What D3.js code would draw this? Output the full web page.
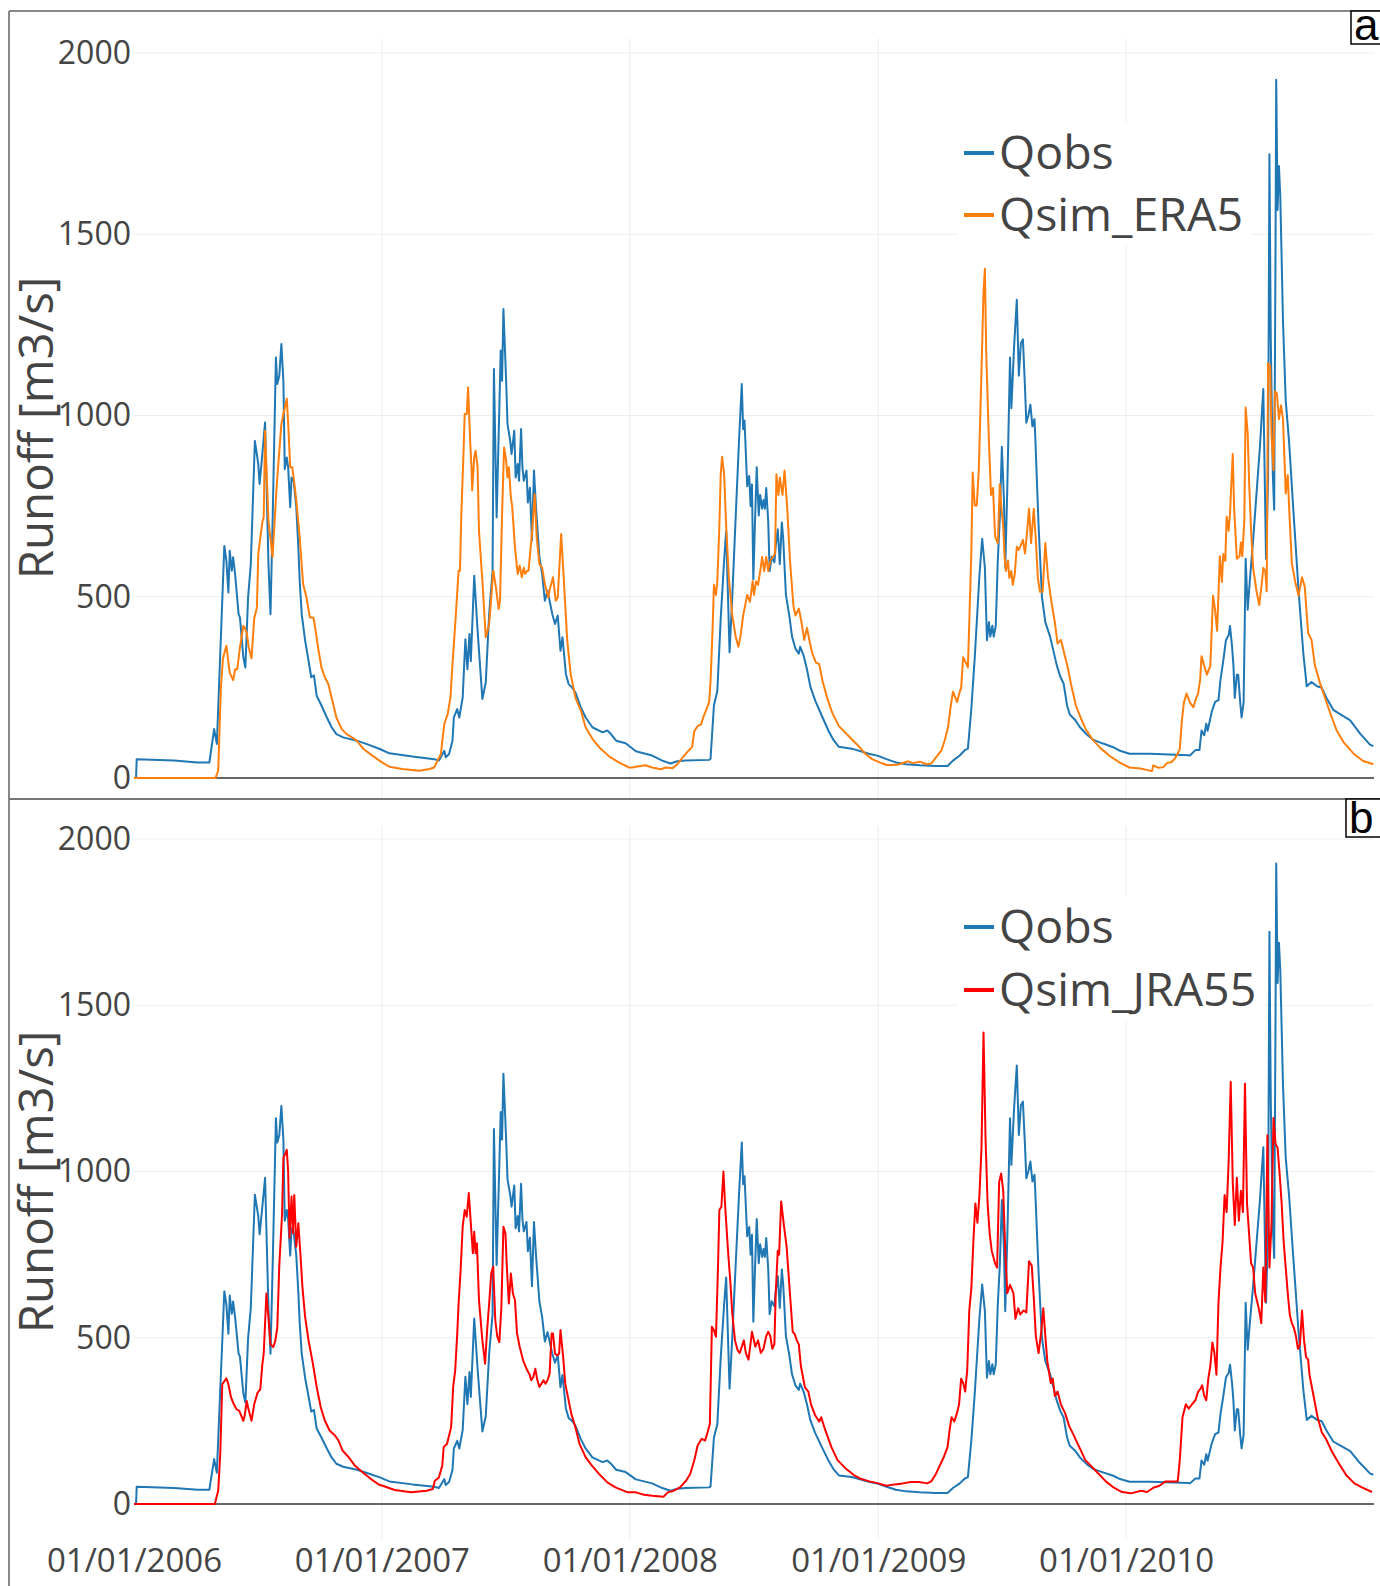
<!DOCTYPE html>
<html>
<head>
<meta charset="utf-8">
<script src="https://cdn.jsdelivr.net/npm/d3@7"></script>
<style>
  body { margin: 0; background: #fff; }
  svg { display: block; }
</style>
</head>
<body>
<svg width="1380" height="1586"></svg>
<script>
// daily runoff: [year-dayOfYear, m3/s]
var qobs = [
  ["2006-004",0],["2006-005",52],["2006-060",48],["2006-095",43],["2006-112",43],["2006-119",135],["2006-123",94],
  ["2006-134",640],["2006-137",600],["2006-140",512],["2006-142",627],["2006-145",572],["2006-147",609],["2006-150",560],
  ["2006-155",452],["2006-157",443],["2006-162",333],["2006-165",305],["2006-169",498],["2006-173",590],["2006-179",930],
  ["2006-184",866],["2006-186",811],["2006-190",894],["2006-194",981],["2006-199",590],["2006-202",452],["2006-205",700],
  ["2006-210",1160],["2006-212",1087],["2006-215",1110],["2006-218",1197],["2006-221",1096],["2006-223",852],["2006-226",884],
  ["2006-228",857],["2006-231",747],["2006-233",829],["2006-236",820],["2006-240",747],["2006-243",636],["2006-245",544],
  ["2006-248",452],["2006-253",379],["2006-258",324],["2006-262",278],["2006-266",283],["2006-270",227],["2006-277",200],
  ["2006-285",167],["2006-292",140],["2006-299",121],["2006-309",112],["2006-329",103],["2006-343",94],["2006-363",80],
  ["2007-012",68],["2007-046",59],["2007-078",52],["2007-085",48],["2007-093",75],["2007-095",57],["2007-100",66],
  ["2007-105",103],["2007-107",167],["2007-112",190],["2007-115",167],["2007-120",222],["2007-124",383],["2007-127",300],
  ["2007-130",397],["2007-132",322],["2007-137",558],["2007-142",406],["2007-149",218],["2007-154",264],["2007-159",452],
  ["2007-164",570],["2007-166",1128],["2007-170",719],["2007-174",1022],["2007-176",1179],["2007-178",1096],["2007-180",1294],
  ["2007-184",1096],["2007-186",977],["2007-190",930],["2007-192",894],["2007-196",958],["2007-198",829],["2007-201",866],
  ["2007-203",820],["2007-206",963],["2007-208",857],["2007-210",820],["2007-214",848],["2007-216",760],["2007-219",801],
  ["2007-222",655],["2007-225",848],["2007-228",747],["2007-233",609],["2007-237",563],["2007-241",489],["2007-245",517],
  ["2007-248",489],["2007-252",452],["2007-256",425],["2007-260",448],["2007-264",351],["2007-267",388],["2007-272",287],
  ["2007-276",259],["2007-281",250],["2007-286",236],["2007-294",195],["2007-301",167],["2007-311",140],["2007-326",126],
  ["2007-333",131],["2007-338",122],["2007-346",103],["2007-360",96],
  ["2008-010",74],["2008-034",62],["2008-049",48],["2008-061",40],["2008-071",46],["2008-083",48],["2008-118",50],
  ["2008-120",53],["2008-125",200],["2008-130",240],["2008-135",440],["2008-140",600],["2008-143",681],["2008-148",347],
  ["2008-152",500],["2008-157",719],["2008-162",933],["2008-166",1087],["2008-168",962],["2008-170",986],["2008-174",805],
  ["2008-177",833],["2008-179",750],["2008-181",810],["2008-183",548],["2008-186",738],["2008-188",857],["2008-191",724],
  ["2008-193",781],["2008-196",743],["2008-198",767],["2008-200",743],["2008-202",800],["2008-205",705],["2008-207",571],
  ["2008-210",610],["2008-214",595],["2008-216",640],["2008-219",686],["2008-222",590],["2008-225",705],["2008-227",660],
  ["2008-231",505],["2008-236",448],["2008-240",390],["2008-245",357],["2008-250",343],["2008-252",362],["2008-257",338],
  ["2008-262",300],["2008-267",252],["2008-274",214],["2008-284",171],["2008-294",129],["2008-301",105],["2008-309",86],
  ["2008-328",81],["2008-353",67],
  ["2009-001",61],["2009-013",52],["2009-027",43],["2009-042",38],["2009-062",35],["2009-086",33],["2009-103",33],
  ["2009-111",48],["2009-121",62],["2009-128",76],["2009-133",81],["2009-138",190],["2009-143",330],["2009-150",560],
  ["2009-154",660],["2009-158",580],["2009-161",380],["2009-164",430],["2009-166",390],["2009-169",420],["2009-171",390],
  ["2009-174",420],["2009-177",600],["2009-180",720],["2009-183",914],["2009-186",770],["2009-188",580],["2009-191",800],
  ["2009-195",1160],["2009-197",1020],["2009-201",1190],["2009-205",1319],["2009-208",1110],["2009-211",1200],["2009-214",1210],
  ["2009-217",1080],["2009-219",980],["2009-222",1000],["2009-225",1030],["2009-228",970],["2009-231",990],["2009-232",950],
  ["2009-237",700],["2009-242",500],["2009-247",430],["2009-254",390],["2009-259",350],["2009-264",310],["2009-269",280],
  ["2009-274",260],["2009-279",200],["2009-283",175],["2009-291",160],["2009-298",140],["2009-308",120],["2009-318",105],
  ["2009-332",95],["2009-347",85],["2009-357",75],
  ["2010-006",67],["2010-036",67],["2010-093",63],["2010-095",62],["2010-103",77],["2010-109",77],["2010-112",131],
  ["2010-116",118],["2010-119",150],["2010-121",130],["2010-124",156],["2010-127",182],["2010-132",210],["2010-137",215],
  ["2010-140",272],["2010-144",323],["2010-148",381],["2010-152",394],["2010-154",419],["2010-157",362],["2010-159",310],
  ["2010-161",221],["2010-164",285],["2010-166",285],["2010-169",208],["2010-171",167],["2010-174",208],["2010-177",605],
  ["2010-180",464],["2010-183",541],["2010-188",656],["2010-193",785],["2010-198",913],["2010-203",1073],["2010-207",605],
  ["2010-210",823],["2010-212",1721],["2010-214",1208],["2010-217",836],["2010-219",740],["2010-221",1464],["2010-222",1926],
  ["2010-224",1567],["2010-226",1688],["2010-228",1605],["2010-232",1259],["2010-236",1041],["2010-241",926],["2010-247",746],
  ["2010-255",515],["2010-262",342],["2010-267",253],["2010-274",265],["2010-282",253],["2010-289",249],["2010-296",221],
  ["2010-306",188],["2010-316",176],["2010-331",159],["2010-345",124],["2010-360",92],["2010-365",88]
];

var qsimEra5 = [
  ["2006-001",0],["2006-121",0],["2006-125",20],["2006-129",250],["2006-132",330],["2006-137",365],["2006-142",290],
  ["2006-147",270],["2006-150",300],["2006-153",300],["2006-157",360],["2006-162",420],["2006-164",415],["2006-167",400],
  ["2006-170",360],["2006-174",330],["2006-178",440],["2006-182",470],["2006-184",618],["2006-190",706],["2006-192",720],
  ["2006-194",958],["2006-199",710],["2006-205",609],["2006-211",802],["2006-218",976],["2006-221",1004],["2006-226",1046],
  ["2006-228",980],["2006-231",857],["2006-234",857],["2006-236",830],["2006-240",765],["2006-245",664],["2006-250",535],
  ["2006-255",498],["2006-260",443],["2006-265",443],["2006-267",425],["2006-272",360],["2006-277",305],["2006-282",278],
  ["2006-287",260],["2006-292",222],["2006-299",167],["2006-307",135],["2006-314",121],["2006-322",112],["2006-329",103],
  ["2006-339",80],["2006-349",66],["2006-364",46],
  ["2007-012",31],["2007-031",25],["2007-056",20],["2007-071",25],["2007-078",29],["2007-083",48],["2007-088",66],
  ["2007-090",103],["2007-093",149],["2007-098",177],["2007-102",222],["2007-105",314],["2007-110",452],["2007-114",572],
  ["2007-116",572],["2007-118",728],["2007-121",885],["2007-123",1004],["2007-126",1004],["2007-128",1078],["2007-131",930],
  ["2007-133",857],["2007-134",793],["2007-137",885],["2007-139",903],["2007-142",857],["2007-144",682],["2007-149",544],
  ["2007-154",388],["2007-159",425],["2007-161",470],["2007-165",572],["2007-169",526],["2007-173",466],["2007-175",490],
  ["2007-178",728],["2007-181",912],["2007-184",876],["2007-186",829],["2007-188",857],["2007-191",774],["2007-193",747],
  ["2007-197",636],["2007-201",563],["2007-204",586],["2007-207",554],["2007-210",580],["2007-212",563],["2007-215",572],
  ["2007-217",572],["2007-222",674],["2007-226",783],["2007-229",664],["2007-233",590],["2007-237",580],["2007-241",535],
  ["2007-246",498],["2007-249",526],["2007-253",554],["2007-257",489],["2007-260",498],["2007-265",673],["2007-269",544],
  ["2007-274",379],["2007-279",287],["2007-286",222],["2007-294",186],["2007-301",140],["2007-311",108],["2007-321",85],
  ["2007-336",59],["2007-350",43],["2007-365",29],
  ["2008-005",29],["2008-010",31],["2008-024",35],["2008-034",29],["2008-047",24],["2008-054",29],["2008-064",27],
  ["2008-071",38],["2008-079",57],["2008-088",76],["2008-093",86],["2008-096",129],["2008-101",143],["2008-106",148],
  ["2008-110",171],["2008-114",190],["2008-118",210],["2008-120",267],["2008-123",410],["2008-125",533],["2008-128",505],
  ["2008-130",543],["2008-133",695],["2008-135",838],["2008-137",886],["2008-140",838],["2008-143",695],["2008-147",552],
  ["2008-152",448],["2008-157",390],["2008-161",362],["2008-164",390],["2008-168",448],["2008-172",486],["2008-174",505],
  ["2008-178",486],["2008-182",543],["2008-184",505],["2008-187",543],["2008-190",533],["2008-194",581],["2008-196",610],
  ["2008-199",571],["2008-202",610],["2008-205",571],["2008-208",600],["2008-212",610],["2008-215",619],["2008-217",838],
  ["2008-220",781],["2008-222",829],["2008-226",781],["2008-229",848],["2008-233",743],["2008-237",600],["2008-242",476],
  ["2008-245",448],["2008-250",467],["2008-254",429],["2008-258",381],["2008-262",414],["2008-266",376],["2008-270",343],
  ["2008-275",319],["2008-280",314],["2008-285",267],["2008-292",219],["2008-299",181],["2008-309",143],["2008-319",124],
  ["2008-329",105],["2008-339",86],["2008-348",67],["2008-358",52],
  ["2009-003",43],["2009-013",36],["2009-022",36],["2009-032",38],["2009-045",46],["2009-052",41],["2009-062",45],
  ["2009-072",38],["2009-079",40],["2009-086",57],["2009-094",76],["2009-099",105],["2009-104",143],["2009-107",190],
  ["2009-111",238],["2009-117",210],["2009-121",238],["2009-123",248],["2009-126",333],["2009-131",314],["2009-133",305],
  ["2009-135",429],["2009-138",619],["2009-140",843],["2009-143",752],["2009-146",752],["2009-149",848],["2009-153",1124],
  ["2009-156",1343],["2009-158",1405],["2009-160",1171],["2009-164",924],["2009-167",781],["2009-170",800],["2009-173",667],
  ["2009-177",648],["2009-180",810],["2009-182",752],["2009-185",695],["2009-187",610],["2009-189",571],["2009-192",600],
  ["2009-194",552],["2009-197",571],["2009-199",533],["2009-202",562],["2009-205",638],["2009-208",629],["2009-210",638],
  ["2009-214",657],["2009-217",619],["2009-220",676],["2009-223",743],["2009-226",648],["2009-230",743],["2009-233",657],
  ["2009-236",552],["2009-239",514],["2009-243",514],["2009-247",648],["2009-251",552],["2009-256",486],["2009-261",429],
  ["2009-265",371],["2009-270",381],["2009-275",343],["2009-280",305],["2009-285",257],["2009-292",200],["2009-300",162],
  ["2009-307",133],["2009-317",105],["2009-329",81],["2009-341",62],["2009-356",43],
  ["2010-006",29],["2010-022",26],["2010-039",19],["2010-041",35],["2010-049",28],["2010-056",30],["2010-061",41],
  ["2010-068",44],["2010-073",54],["2010-080",79],["2010-083",156],["2010-086",208],["2010-090",233],["2010-095",208],
  ["2010-100",195],["2010-104",220],["2010-107",233],["2010-110",272],["2010-112",336],["2010-116",310],["2010-120",285],
  ["2010-125",310],["2010-129",503],["2010-132",464],["2010-135",406],["2010-139",612],["2010-142",541],["2010-144",618],
  ["2010-147",599],["2010-149",721],["2010-152",682],["2010-154",733],["2010-158",894],["2010-160",746],["2010-164",605],
  ["2010-168",612],["2010-170",650],["2010-172",612],["2010-175",708],["2010-177",1022],["2010-180",951],["2010-182",823],
  ["2010-185",682],["2010-188",580],["2010-193",515],["2010-197",477],["2010-201",541],["2010-203",580],["2010-206",570],
  ["2010-208",515],["2010-210",1144],["2010-213",1137],["2010-215",951],["2010-218",849],["2010-220",1067],["2010-223",1060],
  ["2010-226",990],["2010-229",1028],["2010-232",990],["2010-234",887],["2010-236",785],["2010-239",836],["2010-241",746],
  ["2010-245",592],["2010-250",541],["2010-255",503],["2010-260",554],["2010-264",528],["2010-269",400],["2010-274",381],
  ["2010-279",310],["2010-287",259],["2010-294",220],["2010-301",182],["2010-311",131],["2010-321",99],["2010-336",67],
  ["2010-350",47],["2010-365",38]
];

var qsimJra55 = [
  ["2006-001",0],["2006-120",0],["2006-125",40],["2006-128",150],["2006-131",360],["2006-137",378],["2006-140",360],
  ["2006-144",320],["2006-148",300],["2006-152",285],["2006-156",280],["2006-159",265],["2006-162",250],["2006-164",266],
  ["2006-167",310],["2006-169",290],["2006-174",250],["2006-178",300],["2006-183",335],["2006-187",345],["2006-190",420],
  ["2006-192",452],["2006-196",633],["2006-199",560],["2006-202",480],["2006-206",472],["2006-209",490],["2006-212",530],
  ["2006-215",720],["2006-219",870],["2006-221",1040],["2006-226",1065],["2006-228",1000],["2006-230",800],["2006-233",925],
  ["2006-235",814],["2006-237",929],["2006-240",774],["2006-243",844],["2006-246",754],["2006-249",653],["2006-253",563],
  ["2006-258",492],["2006-264",427],["2006-270",352],["2006-276",291],["2006-282",251],["2006-289",221],["2006-297",206],
  ["2006-302",191],["2006-308",161],["2006-317",141],["2006-326",116],["2006-338",95],["2006-350",75],["2006-362",58],
  ["2007-002",55],["2007-020",42],["2007-044",35],["2007-067",40],["2007-076",45],["2007-079",70],["2007-085",80],
  ["2007-090",116],["2007-092",171],["2007-097",181],["2007-103",231],["2007-106",352],["2007-109",402],["2007-112",513],
  ["2007-114",603],["2007-117",704],["2007-120",834],["2007-123",884],["2007-126",864],["2007-129",935],["2007-132",844],
  ["2007-135",754],["2007-137",819],["2007-139",754],["2007-141",784],["2007-144",613],["2007-149",492],["2007-153",422],
  ["2007-156",523],["2007-159",603],["2007-162",693],["2007-165",714],["2007-168",553],["2007-171",503],["2007-174",487],
  ["2007-177",593],["2007-180",834],["2007-183",814],["2007-185",714],["2007-188",603],["2007-191",693],["2007-194",633],
  ["2007-197",613],["2007-200",513],["2007-204",472],["2007-209",432],["2007-212",417],["2007-215",402],["2007-218",392],
  ["2007-221",372],["2007-224",382],["2007-227",407],["2007-230",372],["2007-233",352],["2007-236",362],["2007-239",372],
  ["2007-242",362],["2007-245",372],["2007-248",392],["2007-251",513],["2007-253",513],["2007-256",452],["2007-259",447],
  ["2007-262",452],["2007-264",523],["2007-268",442],["2007-271",362],["2007-274",332],["2007-280",271],["2007-286",231],
  ["2007-292",181],["2007-301",141],["2007-310",116],["2007-321",90],["2007-333",65],["2007-345",50],["2007-363",35],
  ["2008-010",35],["2008-022",28],["2008-034",25],["2008-051",22],["2008-057",35],["2008-066",40],["2008-075",50],
  ["2008-084",70],["2008-090",90],["2008-096",131],["2008-101",176],["2008-107",196],["2008-112",191],["2008-115",211],
  ["2008-119",241],["2008-122",533],["2008-125",523],["2008-128",503],["2008-131",714],["2008-133",884],["2008-136",894],
  ["2008-139",1000],["2008-141",915],["2008-143",849],["2008-146",754],["2008-149",673],["2008-152",573],["2008-156",492],
  ["2008-160",462],["2008-163",454],["2008-169",492],["2008-172",454],["2008-176",434],["2008-181",518],["2008-186",473],
  ["2008-190",492],["2008-194",454],["2008-198",467],["2008-202",505],["2008-205",518],["2008-208",505],["2008-211",467],
  ["2008-214",480],["2008-216",634],["2008-219",762],["2008-221",750],["2008-224",910],["2008-228",839],["2008-232",775],
  ["2008-236",659],["2008-241",518],["2008-244",511],["2008-247",492],["2008-250",480],["2008-253",415],["2008-259",351],
  ["2008-264",338],["2008-268",299],["2008-274",267],["2008-280",248],["2008-283",261],["2008-289",222],["2008-298",171],
  ["2008-307",132],["2008-319",107],["2008-331",87],["2008-342",75],["2008-354",68],
  ["2009-001",62],["2009-013",55],["2009-025",59],["2009-037",62],["2009-049",66],["2009-061",66],["2009-073",62],
  ["2009-079",68],["2009-085",87],["2009-091",113],["2009-097",139],["2009-103",171],["2009-106",222],["2009-109",261],
  ["2009-113",248],["2009-117",274],["2009-120",300],["2009-123",377],["2009-126",364],["2009-129",338],["2009-132",402],
  ["2009-135",582],["2009-138",647],["2009-141",788],["2009-144",904],["2009-147",846],["2009-150",929],["2009-153",1071],
  ["2009-156",1418],["2009-159",1096],["2009-162",904],["2009-165",814],["2009-168",762],["2009-173",724],["2009-176",711],
  ["2009-179",968],["2009-182",994],["2009-185",942],["2009-188",762],["2009-191",634],["2009-195",659],["2009-200",634],
  ["2009-203",557],["2009-207",589],["2009-210",570],["2009-215",582],["2009-219",576],["2009-223",730],["2009-227",717],
  ["2009-230",621],["2009-233",505],["2009-237",454],["2009-241",518],["2009-244",589],["2009-247",505],["2009-250",428],
  ["2009-255",364],["2009-258",377],["2009-261",325],["2009-265",338],["2009-270",299],["2009-276",274],["2009-282",235],
  ["2009-288",210],["2009-297",171],["2009-306",132],["2009-315",113],["2009-324",94],["2009-336",68],["2009-348",49],
  ["2009-360",36],
  ["2010-008",32],["2010-023",40],["2010-032",36],["2010-041",49],["2010-050",55],["2010-059",68],["2010-068",68],
  ["2010-077",68],["2010-080",132],["2010-084",261],["2010-089",300],["2010-093",287],["2010-098",300],["2010-103",312],
  ["2010-107",338],["2010-110",345],["2010-113",357],["2010-116",325],["2010-119",312],["2010-122",377],["2010-125",415],
  ["2010-128",486],["2010-131",454],["2010-134",389],["2010-137",608],["2010-140",711],["2010-143",788],["2010-146",929],
  ["2010-149",878],["2010-152",1032],["2010-155",1270],["2010-158",968],["2010-161",839],["2010-164",981],["2010-167",852],
  ["2010-170",942],["2010-173",878],["2010-176",1264],["2010-179",904],["2010-182",814],["2010-185",724],["2010-188",711],
  ["2010-191",634],["2010-194",608],["2010-197",582],["2010-200",544],["2010-203",711],["2010-206",608],["2010-209",1109],
  ["2010-212",711],["2010-215",839],["2010-218",1161],["2010-221",1084],["2010-224",1071],["2010-227",994],["2010-230",904],
  ["2010-233",788],["2010-236",711],["2010-239",634],["2010-242",569],["2010-245",544],["2010-248",530],["2010-251",505],
  ["2010-254",467],["2010-257",480],["2010-260",582],["2010-263",492],["2010-266",441],["2010-269",435],["2010-271",389],
  ["2010-277",325],["2010-283",261],["2010-289",216],["2010-295",197],["2010-304",158],["2010-313",126],["2010-325",87],
  ["2010-337",62],["2010-349",49],["2010-363",36]
];

var yTicks = [0, 500, 1000, 1500, 2000];
var xTicks = ["2006-001", "2007-001", "2008-001", "2009-001", "2010-001"];
var xDomain = ["2006-001", "2011-001"];
var seriesNames = ["Qobs", "Qsim_ERA5", "Qsim_JRA55"];
var panelLabels = ["a", "b"];

var parseDay = d3.timeParse("%Y-%j");
var fmt = d3.timeFormat("%d/%m/%Y");
var font = "'Open Sans', 'Noto Sans', sans-serif";
var textColor = "#444";

var svg = d3.select("svg");

var x = d3.scaleTime()
    .domain(xDomain.map(parseDay))
    .range([134, 1374]);

// outer frame and the split between the two panels
svg.append("line").attr("x1", 9).attr("x2", 9).attr("y1", 11).attr("y2", 1586)
    .attr("stroke", "#888").attr("stroke-width", 2);
svg.append("line").attr("x1", 9).attr("x2", 1380).attr("y1", 11).attr("y2", 11)
    .attr("stroke", "#888").attr("stroke-width", 2);
svg.append("line").attr("x1", 9).attr("x2", 1380).attr("y1", 799).attr("y2", 799)
    .attr("stroke", "#777").attr("stroke-width", 2);

function drawPanel(p) {
    var y = d3.scaleLinear().domain([0, 2040]).range([p.zero, p.zero - 2040 * p.k]);
    var g = svg.append("g");

    // grid
    g.selectAll(".vgrid").data(xTicks.slice(1)).enter().append("line")
        .attr("x1", function(d) { return x(parseDay(d)); })
        .attr("x2", function(d) { return x(parseDay(d)); })
        .attr("y1", y(2040)).attr("y2", p.gridBottom)
        .attr("stroke", "#eee").attr("stroke-width", 1);
    g.selectAll(".hgrid").data(yTicks.slice(1)).enter().append("line")
        .attr("x1", 134).attr("x2", 1374)
        .attr("y1", function(d) { return y(d); })
        .attr("y2", function(d) { return y(d); })
        .attr("stroke", "#eee").attr("stroke-width", 1);

    // y axis labels
    var ya = g.append("g").attr("transform", "translate(134,0)")
        .call(d3.axisLeft(y).tickValues(yTicks).tickFormat(d3.format("d")).tickSize(0).tickPadding(3));
    ya.select(".domain").remove();
    ya.selectAll("text").attr("font-family", font).attr("font-size", 32).attr("fill", textColor);

    // zero line
    g.append("line").attr("x1", 134).attr("x2", 1374)
        .attr("y1", y(0)).attr("y2", y(0))
        .attr("stroke", "#666").attr("stroke-width", 2);

    g.append("text")
        .attr("transform", "translate(36," + p.titleY + ") rotate(-90)")
        .attr("text-anchor", "middle").attr("dy", "0.35em")
        .attr("font-family", font).attr("font-size", 47.5).attr("fill", textColor)
        .text("Runoff [m3/s]");

    var line = d3.line()
        .x(function(d) { return x(parseDay(d[0])); })
        .y(function(d) { return y(d[1]); });

    g.append("path").datum(qobs)
        .attr("fill", "none").attr("stroke", "#1f77b4").attr("stroke-width", 2)
        .attr("stroke-linejoin", "round").attr("d", line);
    g.append("path").datum(p.sim)
        .attr("fill", "none").attr("stroke", p.color).attr("stroke-width", 2)
        .attr("stroke-linejoin", "round").attr("d", line);

    // legend
    var leg = g.append("g");
    var bg = leg.append("rect").attr("x", 958).attr("y", p.legY[0] - 31)
        .attr("height", p.legY[1] - p.legY[0] + 62).attr("fill", "#fff");
    var items = [[seriesNames[0], "#1f77b4"], [p.name, p.color]];
    var maxEnd = 0;
    items.forEach(function(it, i) {
        leg.append("line").attr("x1", 964).attr("x2", 994)
            .attr("y1", p.legY[i]).attr("y2", p.legY[i])
            .attr("stroke", it[1]).attr("stroke-width", 4);
        var t = leg.append("text").attr("x", 999).attr("y", p.legY[i]).attr("dy", "0.35em")
            .attr("font-family", font).attr("font-size", 46.5).attr("fill", textColor)
            .text(it[0]);
        maxEnd = Math.max(maxEnd, 999 + t.node().getComputedTextLength());
    });
    bg.attr("width", maxEnd + 8 - 958);

    // panel letter
    svg.append("rect").attr("x", p.box[0]).attr("y", p.box[1])
        .attr("width", 60).attr("height", p.box[2])
        .attr("fill", "#fff").attr("stroke", "#000").attr("stroke-width", 1.5);
    svg.append("text").attr("x", p.box[0] + 3).attr("y", p.box[1] + p.box[2] - 4)
        .attr("font-family", "'Liberation Sans', Arial, sans-serif").attr("font-size", 44)
        .attr("fill", "#000").text(p.label);
}

drawPanel({ label: panelLabels[0], sim: qsimEra5, name: seriesNames[1], color: "#ff7f0e",
    zero: 778, k: 0.3625, gridBottom: 798, titleY: 428, legY: [153, 215], box: [1351, 11, 33] });
drawPanel({ label: panelLabels[1], sim: qsimJra55, name: seriesNames[2], color: "#ff0000",
    zero: 1504, k: 0.3325, gridBottom: 1540, titleY: 1182, legY: [927, 990], box: [1346, 799, 38] });

// shared x axis at the bottom
var xa = svg.append("g").attr("transform", "translate(0,1546)")
    .call(d3.axisBottom(x).tickValues(xTicks.map(parseDay)).tickFormat(fmt).tickSize(0).tickPadding(3));
xa.select(".domain").remove();
xa.selectAll("text").attr("font-family", font).attr("font-size", 33).attr("fill", textColor);
</script>
</body>
</html>
